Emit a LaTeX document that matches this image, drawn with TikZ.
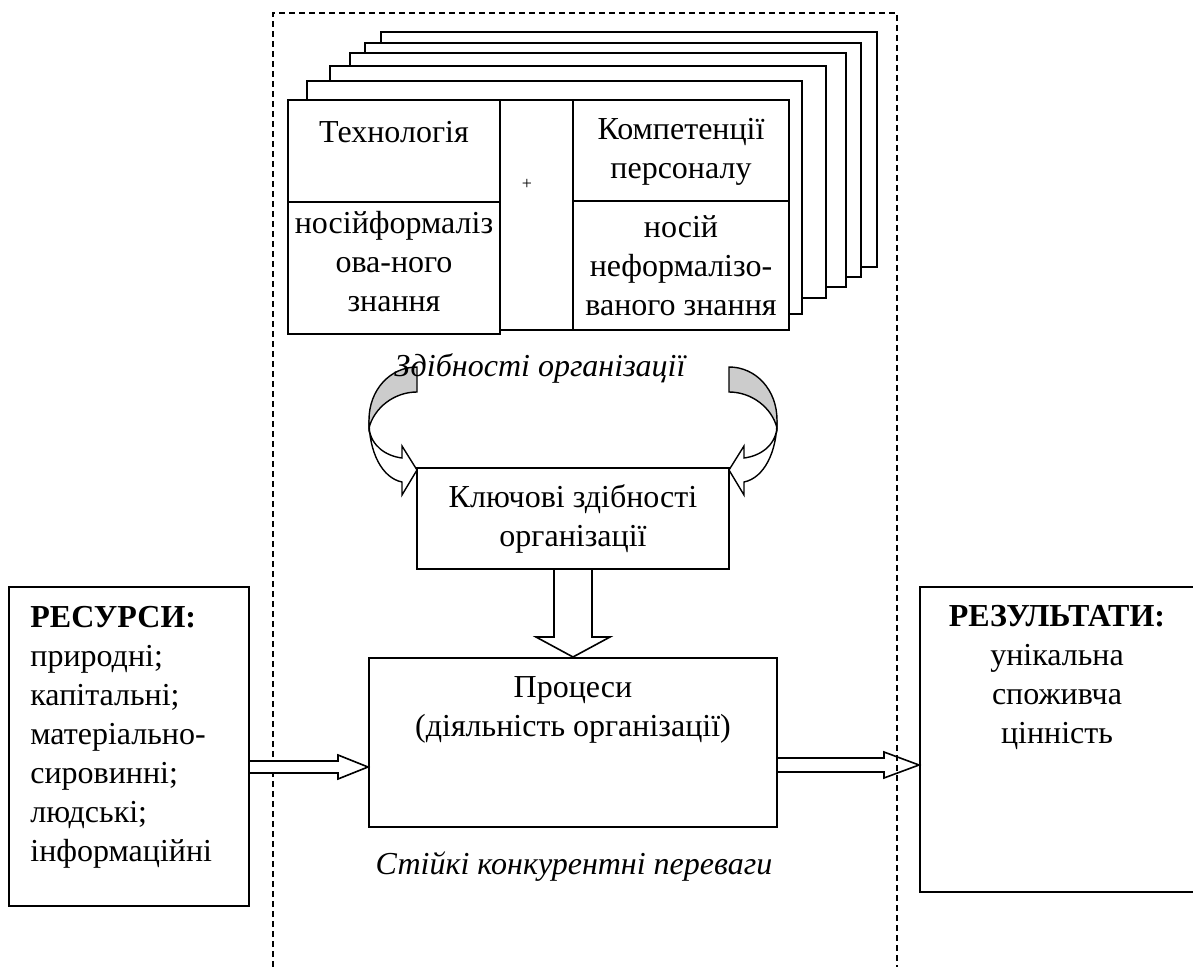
\documentclass[tikz,border=0pt]{standalone}
\usepackage{fontspec}
\setmainfont{Liberation Serif}
\usetikzlibrary{calc, positioning}

\begin{document}
\begin{tikzpicture}[
      x=0.5pt, y=-0.5pt,
      font=\fontsize{16pt}{19.5pt}\selectfont,
      box/.style={draw, line width=1pt, inner sep=0pt, align=center},
      txt/.style={inner sep=0pt, align=center},
      itxt/.style={inner sep=0pt, font=\fontsize{16pt}{19.5pt}\selectfont\itshape},
      card/.style={draw, fill=white, line width=1pt},
      frame/.style={line width=0.6pt, dash pattern=on 3pt off 2pt},
      hollow/.style={draw, line width=0.8pt, line join=miter},
      twist/.style={draw, line width=0.7pt, fill=gray!40},
      twistfront/.style={draw, line width=0.7pt, fill=white},
  ]

  \useasboundingbox (0,0) rectangle (1193,967);
  \clip (0,0) rectangle (1193,967);

  %% organisation frame
  \draw[frame] (273,967) -- (273,13) -- (897,13) -- (897,967);

  %% stack of capability cards
  \foreach \l/\t/\r/\b in {381/32/877/267, 365/43/861/277, 350/53/846/287,
                           330/66/826/298, 307/81/802/314}
    \draw[card] (\l,\t) rectangle (\r,\b);
  \draw[card] (288,100) rectangle (789,330);
  \draw[card] (288,100) rectangle (500,334);
  \draw[line width=1pt] (573,100) -- (573,330);
  \draw[line width=1pt] (288,202) -- (500,202);
  \draw[line width=1pt] (573,201) -- (789,201);

  \node[txt] (tech)        at (394,132) {Технологія};
  \node[txt] (techcarrier) at (394,262) {носійформаліз\\ова-ного\\знання};
  \node[txt, font=\small] (plus) at (527,184) {+};
  \node[txt] (comp)        at (681,152) {Компетенції\\персоналу};
  \node[txt] (compcarrier) at (681,266) {носій\\неформалізо-\\ваного знання};

  %% curved arrows to the key box
  \foreach \s/\c in {1/0, -1/1146} {
    \begin{scope}[shift={(\c,0)}, xscale=\s]
      \draw[twistfront] (369,420) .. controls (369,452) and (382,478) .. (402,482)
        -- (402,495) -- (417,470) -- (402,446) -- (402,458)
        .. controls (386,456) and (371,446) .. (369,428) -- cycle;
      \draw[twist] (417,367) .. controls (390,367) and (369,390) .. (369,420)
        -- (369,428) .. controls (374,408) and (394,392) .. (417,392) -- cycle;
    \end{scope}
  }

  \node[itxt] (ability) at (540,368) {Здібності організації};

  %% key capabilities and processes
  \node[box, minimum width=156pt, minimum height=50.5pt] (key) at (573,518.5)
       {Ключові здібності\\організації};
  \node[box, minimum width=204pt, minimum height=84.5pt] (proc) at (573,742.5) {};
  \node[txt] (proctxt) at (573,710) {Процеси\\(діяльність організації)};
  \node[itxt] (advantage) at (574,867) {Стійкі конкурентні переваги};

  %% inputs and outputs
  \node[box, minimum width=120pt, minimum height=159.5pt] (res) at (129,746.5) {};
  \node[txt, align=left, anchor=west] (restxt) at (30,737.5)
       {\textbf{РЕСУРСИ:}\\природні;\\капітальні;\\матеріально-\\сировинні;\\людські;\\інформаційні};
  \node[box, minimum width=139pt, minimum height=152.5pt] (out) at (1059,739.5) {};
  \node[txt] (outtxt) at (1057,677.5)
       {\textbf{РЕЗУЛЬТАТИ:}\\унікальна\\споживча\\цінність};

  %% hollow arrows
  \coordinate (inlvl)  at (0,767);
  \coordinate (outlvl) at (0,765);
  \draw[hollow, fill=white] ($(key.south)+(-19,0)$) -- ($(proc.north)+(-19,-20)$)
    -- ++(-18,0) -- (proc.north) -- ($(proc.north)+(37,-20)$) -- ++(-18,0)
    -- ($(key.south)+(19,0)$);
  \draw[hollow, fill=white] ($(res.east |- inlvl)+(0,-6)$) -- ($(proc.west |- inlvl)+(-30,-6)$)
    -- ++(0,-6) -- (proc.west |- inlvl) -- ($(proc.west |- inlvl)+(-30,12)$) -- ++(0,-6)
    -- ($(res.east |- inlvl)+(0,6)$);
  \draw[hollow] ($(proc.east |- outlvl)+(0,-7)$) -- ($(out.west |- outlvl)+(-35,-7)$)
    -- ++(0,-6) -- (out.west |- outlvl) -- ($(out.west |- outlvl)+(-35,13)$) -- ++(0,-6)
    -- ($(proc.east |- outlvl)+(0,7)$);

\end{tikzpicture}
\end{document}
